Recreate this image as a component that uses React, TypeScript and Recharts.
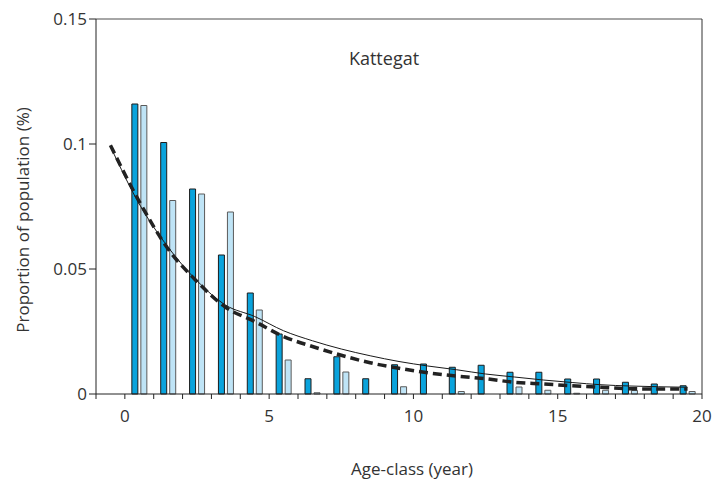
import React from 'react';
import {
  ComposedChart,
  Bar,
  Line,
  XAxis,
  YAxis,
  ReferenceLine,
} from 'recharts';

// Age classes 0..19; bars sit in the middle of each class, curves at the class edges
const AGES = Array.from({ length: 20 }, (_, i) => i);

const OBSERVED_A = [
  0.116, 0.1006, 0.082, 0.0556, 0.0404, 0.024, 0.0061, 0.0149, 0.0061, 0.0117,
  0.012, 0.0107, 0.0115, 0.0087, 0.0087, 0.006, 0.006, 0.0047, 0.004, 0.0033,
];

const OBSERVED_B = [
  0.1154, 0.0774, 0.08, 0.0728, 0.0336, 0.0136, 0.0005, 0.0088, 0, 0.0029,
  0, 0.001, 0, 0.0028, 0.0015, 0.0003, 0.0015, 0.0014, 0, 0.001,
];

// Fitted curves at x = -0.5, 0.5, ..., 19.5
const FIT_SOLID = [
  0.099, 0.076, 0.0587, 0.0453, 0.0355, 0.031, 0.0253, 0.0213, 0.018, 0.0153,
  0.013, 0.0112, 0.0097, 0.008, 0.0068, 0.0056, 0.0046, 0.0037, 0.0032, 0.0029,
  0.0027,
];

const FIT_DASHED = [
  0.0995, 0.077, 0.058, 0.045, 0.0346, 0.029, 0.023, 0.019, 0.0155, 0.0125,
  0.0103, 0.0085, 0.0072, 0.0061, 0.0047, 0.004, 0.0033, 0.0027, 0.0021, 0.002,
  0.002,
];

const X_TICKS = Array.from({ length: 22 }, (_, i) => i - 1);
const Y_TICKS = [0, 0.05, 0.1, 0.15];

const data = FIT_SOLID.map((fit, i) => ({
  x: i - 0.5,
  a: i > 0 ? OBSERVED_A[i - 1] : null,
  b: i > 0 ? OBSERVED_B[i - 1] : null,
  fit,
  fit2: FIT_DASHED[i],
}));

const FONT = '"Open Sans", sans-serif';
const TEXT = '#333';

export default function App() {
  return (
    <div style={{ position: 'absolute', left: 0, top: 0, background: '#fff' }}>
      <ComposedChart
        width={712}
        height={483}
        data={data}
        margin={{ top: 19, right: 10, left: 8, bottom: 59 }}
        barGap={3}
        style={{ fontFamily: FONT }}
      >
        <XAxis
          dataKey="x"
          type="number"
          domain={[-1, 20]}
          ticks={X_TICKS}
          interval={0}
          tickFormatter={(v: number) => (v >= 0 && v % 5 === 0 ? String(v) : '')}
          height={30}
          tickSize={5}
          tickMargin={11}
          stroke="#222"
          tick={{ fill: TEXT, fontSize: 17 }}
        />
        <YAxis
          type="number"
          domain={[0, 0.15]}
          ticks={Y_TICKS}
          width={88}
          tickSize={7}
          tickMargin={2}
          stroke="#222"
          tick={{ fill: TEXT, fontSize: 17 }}
        />
        <ReferenceLine y={0.15} stroke="#888" strokeWidth={1.5} />
        <ReferenceLine x={20} stroke="#333" strokeWidth={1} />
        <Bar dataKey="a" barSize={6} fill="#0aa3dc" stroke="#1c1c1c" strokeWidth={1} isAnimationActive={false} />
        <Bar dataKey="b" barSize={6} fill="#bfe4f6" stroke="#5a5a5a" strokeWidth={1} isAnimationActive={false} />
        <Line
          dataKey="fit"
          type="monotone"
          stroke="#1a1a1a"
          strokeWidth={1}
          dot={false}
          isAnimationActive={false}
        />
        <Line
          dataKey="fit2"
          type="monotone"
          stroke="#222"
          strokeWidth={3.5}
          strokeDasharray="9 5"
          dot={false}
          isAnimationActive={false}
        />
        <text x={384} y={65} textAnchor="middle" fontSize={18} fill={TEXT} fontFamily={FONT}>
          Kattegat
        </text>
        <text x={412} y={475} textAnchor="middle" fontSize={17} fill={TEXT} fontFamily={FONT}>
          Age-class (year)
        </text>
        <text
          x={0}
          y={0}
          transform="translate(29 220) rotate(-90)"
          textAnchor="middle"
          fontSize={17}
          fill={TEXT}
          fontFamily={FONT}
        >
          Proportion of population (%)
        </text>
      </ComposedChart>
    </div>
  );
}
